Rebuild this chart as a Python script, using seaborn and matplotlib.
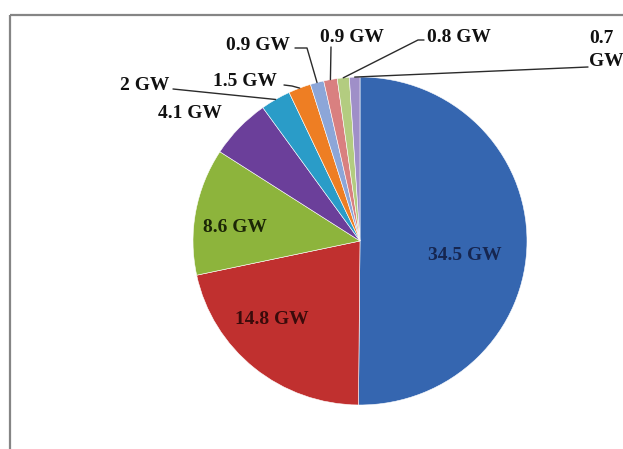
import numpy as np
import matplotlib
matplotlib.use("Agg")
import matplotlib.pyplot as plt
import seaborn as sns

# ---- data ----
values = [34.5, 14.8, 8.6, 4.1, 2.0, 1.5, 0.9, 0.9, 0.8, 0.7]
labels = ["34.5 GW", "14.8 GW", "8.6 GW", "4.1 GW", "2 GW", "1.5 GW",
          "0.9 GW", "0.9 GW", "0.8 GW", "0.7\nGW"]
slice_colors = ["#3566B0", "#C0302F", "#8DB43C", "#6B3F9A", "#2A9CC8",
                "#EE7E23", "#8CA6D8", "#D98080", "#B3CC80", "#9F8FC8"]

sns.set_theme(style="white")
plt.rcParams["font.family"] = ["Liberation Serif", "DejaVu Serif"]

W, H = 623, 449
fig = plt.figure(figsize=(W / 100, H / 100), dpi=100)
fig.patch.set_facecolor("white")

# pie bounding box in pixels (left, top, right, bottom)
pl, pt, pr, pb = 193, 77, 527, 405
ax_p = fig.add_axes([pl / W, (H - pb) / H, (pr - pl) / W, (pb - pt) / H])
palette = sns.color_palette(slice_colors)
wedges, _ = ax_p.pie(values, colors=palette, startangle=90, counterclock=False,
                     radius=1.0,
                     wedgeprops=dict(edgecolor="white", linewidth=0.4))
ax_p.set_xlim(-1, 1)
ax_p.set_ylim(-1, 1)
ax_p.set_aspect("auto")
ax_p.axis("off")

# overlay axes in pixel coordinates
ax_o = fig.add_axes([0, 0, 1, 1], zorder=5)
ax_o.set_xlim(0, W)
ax_o.set_ylim(H, 0)
ax_o.axis("off")
ax_o.patch.set_alpha(0)

# frame (cropped box)
ax_o.plot([9.5, W], [15, 15], color="#858585", lw=1.6, solid_capstyle="butt")
ax_o.plot([9.5, 9.5], [15, H], color="#858585", lw=1.6, solid_capstyle="butt")


def anchor(i, r=1.0):
    w = wedges[i]
    th = np.deg2rad((w.theta1 + w.theta2) / 2)
    disp = ax_p.transData.transform((r * np.cos(th), r * np.sin(th)))
    return ax_o.transData.inverted().transform(disp)


# label layout: (x, y, ha, color)
label_pos = [
    (465, 255, "center", "#162650"),
    (272, 320, "center", "#3a0b0b"),
    (235, 228, "center", "#1c2606"),
    (190, 114, "center", "#111111"),
    (145, 86, "center", "#111111"),
    (245, 82, "center", "#111111"),
    (258, 46, "center", "#111111"),
    (352, 37, "center", "#111111"),
    (459, 37, "center", "#111111"),
    (589, 50, "left", "#111111"),
]
# leader paths (start point and optional elbows, ending at the slice)
leaders = {
    4: [(173, 89)],
    5: [(284, 85), (292, 86)],
    6: [(295, 48), (307, 48)],
    7: [(331, 47)],
    8: [(424, 40), (418, 40)],
    9: [(588, 67)],
}

for i, (lab, (x, y, ha, c)) in enumerate(zip(labels, label_pos)):
    ax_o.text(x, y, lab, ha=ha, va="center", fontsize=14, fontweight="bold",
              color=c, linespacing=1.4)

for i, pts in leaders.items():
    ax_end = anchor(i, 1.0)
    xs = [p[0] for p in pts] + [ax_end[0]]
    ys = [p[1] for p in pts] + [ax_end[1]]
    ax_o.plot(xs, ys, color="#2b2b2b", lw=1.0)

fig.savefig("out.png", dpi=100, facecolor="white")
